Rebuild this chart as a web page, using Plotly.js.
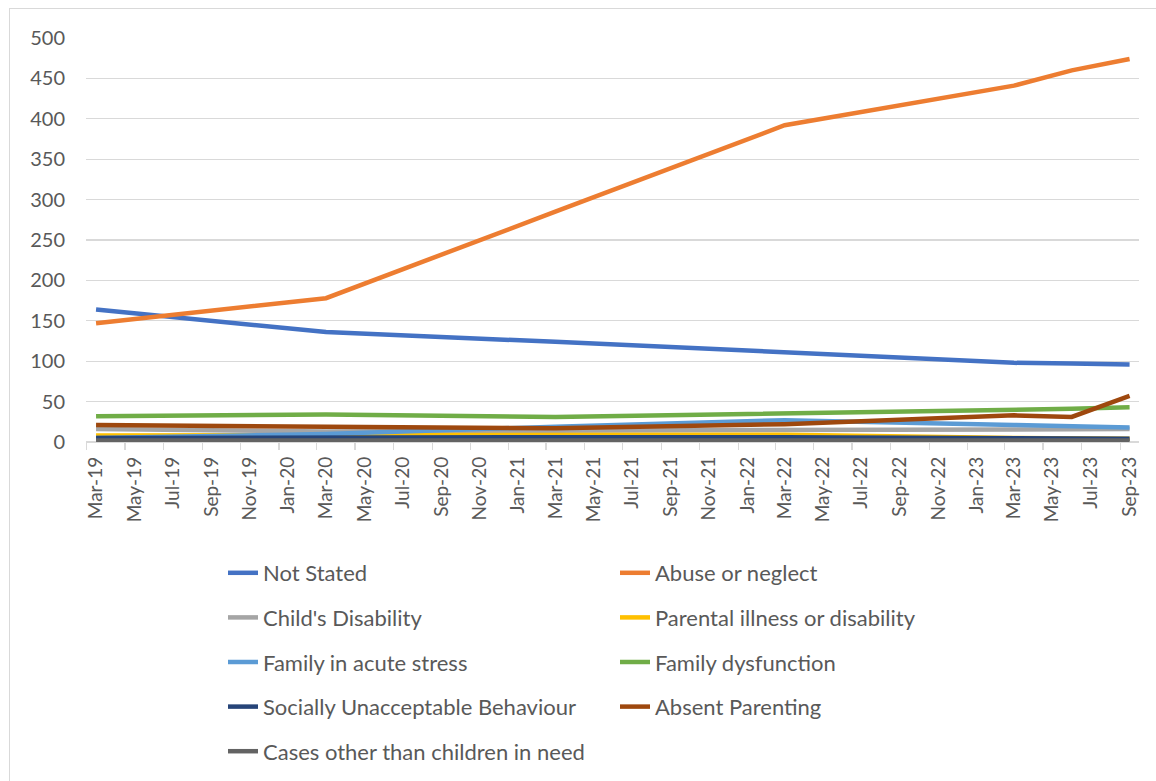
<!DOCTYPE html>
<html>
<head>
<meta charset="utf-8">
<script src="https://cdn.plot.ly/plotly-3.0.1.min.js"></script>
<style>
html,body{margin:0;padding:0;background:#fff;}
#chart{width:1156px;height:781px;position:absolute;left:0;top:0;}
#frame{position:absolute;left:9px;top:8px;width:1160px;height:800px;border:1px solid #d9d9d9;pointer-events:none;}
</style>
</head>
<body>
<div id="chart"></div>
<div id="frame"></div>
<script>
// Observation dates (mid-month of each reporting month)
const dates = ['2019-03-16','2020-03-16','2021-03-16','2022-03-16','2023-03-16','2023-06-16','2023-09-16'];

const notStated        = [164, 136, 124, 111, 98, 97, 96];
const abuseNeglect     = [147, 178, 285, 392, 441, 460, 474];
const childDisability  = [16, 13, 14, 15, 16, 15, 16];
const parentalIllness  = [8, 8, 9, 9, 5, 4, 4];
const acuteStress      = [5, 10, 19, 27, 21, 19, 18];
const familyDysfunction= [32, 34, 31, 35, 39, 41, 43];
const sociallyUnaccept = [5, 6, 6, 6, 5, 5, 4];
const absentParenting  = [21, 19, 17, 22, 33, 31, 57];
const casesOther       = [2, 2, 2, 2, 2, 2, 2];

const seriesNames = ['Not Stated','Abuse or neglect',"Child's Disability",'Parental illness or disability',
  'Family in acute stress','Family dysfunction','Socially Unacceptable Behaviour','Absent Parenting',
  'Cases other than children in need'];
const seriesValues = [notStated, abuseNeglect, childDisability, parentalIllness, acuteStress,
  familyDysfunction, sociallyUnaccept, absentParenting, casesOther];
const colors = ['#4472C4','#ED7D31','#A5A5A5','#FFC000','#5B9BD5','#70AD47','#264478','#9E480E','#636363'];

const traces = seriesNames.map((name, i) => ({
  type: 'scatter',
  mode: 'lines',
  name: name,
  x: dates,
  y: seriesValues[i],
  line: {color: colors[i], width: 4.5},
  legend: (i % 2 === 0) ? 'legend' : 'legend2',
  legendgroup: 'g' + i,
  hoverinfo: 'x+y+name'
}));

const FONT = 'Lato, "Open Sans", sans-serif';
const legendCommon = {
  orientation: 'v',
  xref: 'container', yref: 'container',
  xanchor: 'left', yanchor: 'top',
  traceorder: 'grouped',
  tracegroupgap: 13,
  font: {family: FONT, size: 22, color: '#595959'},
  bgcolor: 'rgba(0,0,0,0)',
  itemclick: false, itemdoubleclick: false
};

const layout = {
  width: 1156, height: 781,
  margin: {l: 86, r: 17, t: 38, b: 339, autoexpand: false},
  paper_bgcolor: '#ffffff',
  plot_bgcolor: '#ffffff',
  font: {family: FONT, color: '#595959'},
  showlegend: true,
  xaxis: {
    type: 'date',
    range: ['2019-02-28', '2023-10-01'],
    tick0: '2019-03-16',
    dtick: 'M2',
    tickformat: '%b-%y',
    tickangle: -90,
    ticks: '',
    ticklabelstandoff: 10,
    tickfont: {family: FONT, size: 19, color: '#595959'},
    showgrid: false,
    zeroline: false,
    showline: false,
    minor: {tick0: '2019-03-01', dtick: 'M2', ticks: 'outside', ticklen: 7, tickcolor: '#d9d9d9', tickwidth: 1.3, showgrid: false},
    fixedrange: true
  },
  yaxis: {
    range: [0, 500],
    dtick: 50,
    tick0: 0,
    showgrid: true,
    gridcolor: '#d9d9d9',
    gridwidth: 1.3,
    zeroline: true,
    zerolinecolor: '#d9d9d9',
    zerolinewidth: 1.3,
    ticks: '',
    ticklabelstandoff: 20,
    tickfont: {family: FONT, size: 20, color: '#595959'},
    fixedrange: true
  },
  legend: Object.assign({}, legendCommon, {x: 223/1156, y: 1 - 552/781}),
  legend2: Object.assign({}, legendCommon, {x: 615/1156, y: 1 - 552/781})
};

Plotly.newPlot('chart', traces, layout, {displayModeBar: false, staticPlot: true});
</script>
</body>
</html>
